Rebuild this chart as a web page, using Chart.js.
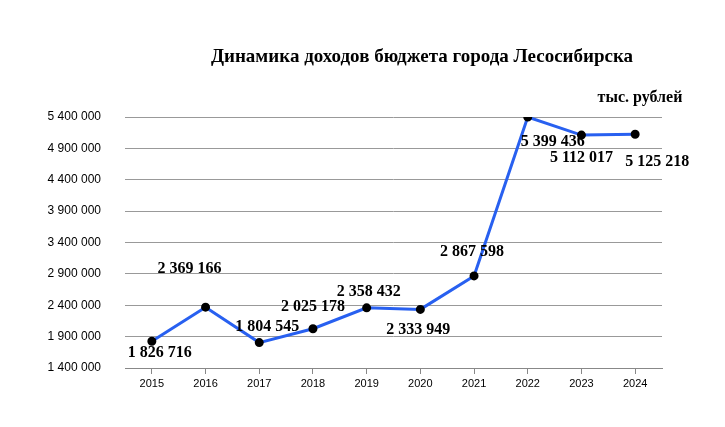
<!DOCTYPE html>
<html><head><meta charset="utf-8">
<script src="https://cdn.jsdelivr.net/npm/chart.js@4"></script>
<style>body{margin:0;background:#fff}#w{width:725px;height:427px;position:relative}</style>
</head><body><div id="w"><canvas id="c"></canvas></div>
<script>
const years = ['2015','2016','2017','2018','2019','2020','2021','2022','2023','2024'];
const revenue = [1826716,2369166,1804545,2025178,2358432,2333949,2867598,5399436,5112017,5125218];
const labelDx = [8,-16,8,0,2,-2,-2,25,0,22];
const labelDy = [12,-38,-16,-22,-16,20,-24,25,23,28];
const fmt = v => v.toString().replace(/\B(?=(\d{3})+(?!\d))/g,' ');
const labels = {
  id:'lbl',
  afterDatasetsDraw(ch){
    const c=ch.ctx, m=ch.getDatasetMeta(0);
    c.save();c.font='bold 16px "Liberation Serif"';c.fillStyle='#000';c.textAlign='center';c.textBaseline='middle';
    m.data.forEach((p,i)=>c.fillText(fmt(revenue[i]),p.x+labelDx[i],p.y+labelDy[i]));
    c.font='bold 19px "Liberation Serif"';
    c.fillText('Динамика доходов бюджета города Лесосибирска',422,57);
    c.font='bold 16px "Liberation Serif"';
    c.fillText('тыс. рублей',640,98);
    c.restore();
  }
};
new Chart(document.getElementById('c'),{
  type:'line',
  data:{labels:years,datasets:[{data:revenue,borderColor:'#2860f0',borderWidth:3,tension:0,
    pointBackgroundColor:'#000',pointBorderColor:'#000',pointRadius:3}]},
  options:{responsive:true,maintainAspectRatio:false,animation:false,
    layout:{padding:{left:40,right:63,top:117,bottom:34}},
    plugins:{legend:{display:false},tooltip:{enabled:false}},
    scales:{
      x:{offset:true,grid:{display:true,drawOnChartArea:false,color:'#888',tickLength:6},border:{color:'#888'},
        ticks:{color:'#000',font:{size:11,family:'Liberation Sans'}},afterFit:a=>{a.height=25}},
      y:{min:1400000,max:5400000,grid:{color:'#999',drawTicks:false},border:{display:false},
        ticks:{stepSize:500000,color:'#000',padding:24,font:{size:12,family:'Liberation Sans'},callback:v=>fmt(v)},
        afterFit:a=>{a.width=85}}
    }},
  plugins:[labels]
});
</script></body></html>
